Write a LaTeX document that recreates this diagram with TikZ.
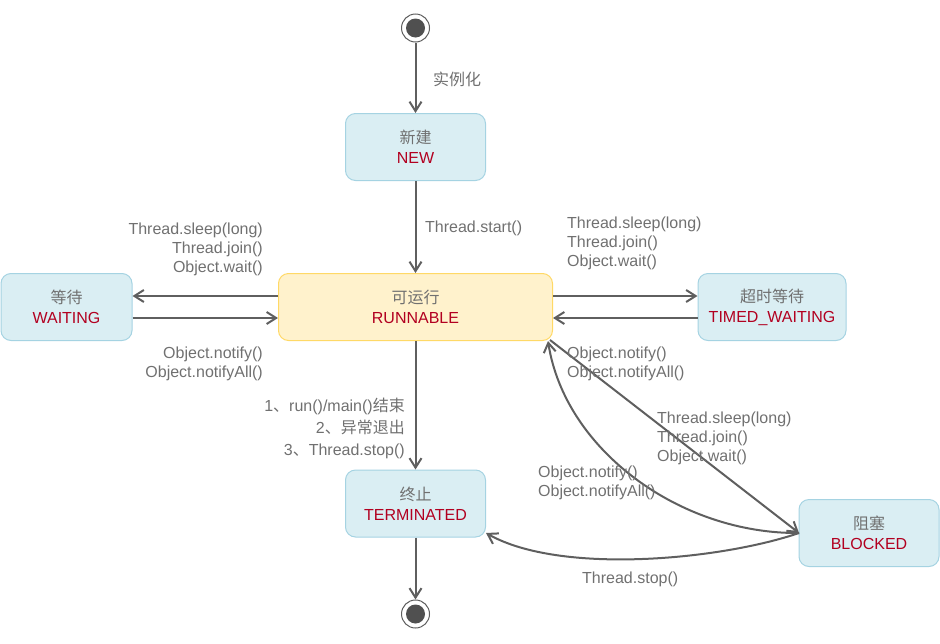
\documentclass[tikz,border=0pt]{standalone}
\usepackage{fontspec}
\setmainfont{Liberation Sans}
\newfontfamily\cjk{Noto Sans CJK SC}
\usetikzlibrary{arrows.meta}
\definecolor{txt}{HTML}{707070}
\definecolor{ln}{HTML}{5F5F5F}
\definecolor{redt}{HTML}{B20020}
\definecolor{bfill}{HTML}{DAEEF3}
\definecolor{bdraw}{HTML}{A5D3E2}
\definecolor{yfill}{HTML}{FFF2CC}
\definecolor{ydraw}{HTML}{FFD966}
\definecolor{dot}{HTML}{505050}
\begin{document}
\begin{tikzpicture}[x=1pt,y=-1pt,
  state/.style={draw=bdraw, fill=bfill, rounded corners=10pt, line width=1pt, align=center,
    font=\fontsize{16}{20}\selectfont, text=txt, inner sep=0pt, minimum height=67pt},
  lbl/.style={font=\fontsize{16}{19}\selectfont, text=txt, inner sep=0pt},
  edge/.style={draw=ln, line width=2pt, -{Straight Barb[length=9.5pt,width=12pt]}},
  pseudo/.style={circle, draw=ln, fill=white, line width=1pt, minimum size=28pt, inner sep=0pt}
]
\useasboundingbox (0,0) rectangle (940,643);

% states
\node[state, minimum width=140pt] (new) at (415.5,147) {{\cjk 新建}\\\textcolor{redt}{NEW}};
\node[state, minimum width=274pt, fill=yfill, draw=ydraw] (run) at (415.5,307) {{\cjk 可运行}\\\textcolor{redt}{RUNNABLE}};
\node[state, minimum width=131pt] (wait) at (66.5,307) {{\cjk 等待}\\\textcolor{redt}{WAITING}};
\node[state, minimum width=148pt] (timed) at (772,307) {{\cjk 超时等待}\\\textcolor{redt}{TIMED\_WAITING}};
\node[state, minimum width=140pt] (term) at (415.5,503.5) {{\cjk 终止}\\\textcolor{redt}{TERMINATED}};
\node[state, minimum width=140pt] (blk) at (869,533) {{\cjk 阻塞}\\\textcolor{redt}{BLOCKED}};

% start / end
\node[pseudo] (s) at (415.5,28) {};
\fill[dot] (s.center) circle (9.5pt);
\node[pseudo] (e) at (415.5,614) {};
\fill[dot] (e.center) circle (9.5pt);

% edges
\draw[edge] (s) -- (new);
\draw[edge] (new) -- (run);
\draw[edge] (run.west |- 0,296) -- (wait.east |- 0,296);
\draw[edge] (wait.east |- 0,318) -- (run.west |- 0,318);
\draw[edge] (run.east |- 0,296) -- (timed.west |- 0,296);
\draw[edge] (timed.west |- 0,318) -- (run.east |- 0,318);
\draw[edge] (run) -- (term);
\draw[edge] (term) -- (e);
\coordinate (rc) at (550,340);
\coordinate (rt) at (548,341);
\coordinate (bw) at (799,533);
\coordinate (tr) at (486,533);
\draw[edge] (rc) -- (bw);
\draw[edge] (bw) .. controls (680,534) and (565,450) .. (rt);
\draw[edge] (bw) .. controls (720,560) and (560,575) .. (tr);

% labels
\node[lbl, anchor=west] (l0) at (433,79) {\cjk 实例化};
\node[lbl, anchor=west] (l1) at (425,228) {Thread.start()};
\node[lbl, anchor=east, align=right] (l2) at (263,249) {Thread.sleep(long)\\Thread.join()\\Object.wait()};
\node[lbl, anchor=east, align=right] (l3) at (263,364) {Object.notify()\\Object.notifyAll()};
\node[lbl, anchor=west, align=left] (l4) at (567,243) {Thread.sleep(long)\\Thread.join()\\Object.wait()};
\node[lbl, anchor=west, align=left] (l5) at (567,364) {Object.notify()\\Object.notifyAll()};
\node[lbl, anchor=west, align=left] (l6) at (657,438.5) {Thread.sleep(long)\\Thread.join()\\Object.wait()};
\node[lbl, anchor=west, align=left] (l7) at (538,483) {Object.notify()\\Object.notifyAll()};
\node[lbl, anchor=west] (l8) at (582,579) {Thread.stop()};
\node[lbl, anchor=east, align=right, font=\fontsize{16}{22}\selectfont] (l9) at (405,428)
  {1{\cjk 、}run()/main(){\cjk 结束}\\2{\cjk 、异常退出}\\3{\cjk 、}Thread.stop()};
\end{tikzpicture}
\end{document}
